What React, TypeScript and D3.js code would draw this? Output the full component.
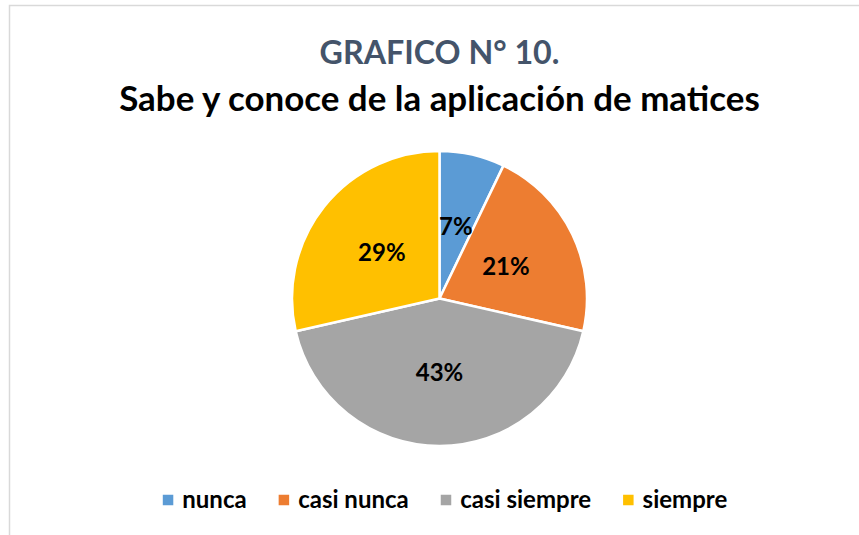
import React, { useEffect, useRef } from "react";
import * as d3 from "d3";

const categories = ["nunca", "casi nunca", "casi siempre", "siempre"];
const counts = [1, 3, 6, 4];
const colors = ["#5B9BD5", "#ED7D31", "#A5A5A5", "#FFC000"];
const titleLine1 = "GRAFICO N° 10.";
const titleLine2 = "Sabe y conoce de la aplicación de matices";

const W = 859;
const H = 535;
const FONT = "Lato, 'Open Sans', sans-serif";

export default function App() {
  const ref = useRef<SVGSVGElement | null>(null);

  useEffect(() => {
    const svg = d3.select(ref.current);
    svg.selectAll("*").remove();

    svg.append("rect").attr("x", 0).attr("y", 0).attr("width", W).attr("height", H).attr("fill", "#fff");
    svg.append("rect")
      .attr("x", 9.5).attr("y", 5.5).attr("width", W + 50).attr("height", H + 50)
      .attr("fill", "none").attr("stroke", "#D9D9D9").attr("stroke-width", 1.5);

    const cx = 439.5;
    const titleFit = (txt: string, y: number, target: number, size: number, color: string) => {
      const t = svg.append("text")
        .attr("x", cx).attr("y", y).attr("text-anchor", "middle")
        .attr("font-family", FONT).attr("font-weight", 700)
        .attr("font-size", size).attr("fill", color).text(txt);
      const w = (t.node() as SVGTextElement).getComputedTextLength();
      if (w > 0) t.attr("font-size", size * target / w);
    };
    titleFit(titleLine1, 64, 240, 36, "#44546A");
    titleFit(titleLine2, 111, 641, 32, "#000");

    const pieCx = 439.5, pieCy = 298.5, r = 147.5;
    const pie = d3.pie<number>().sort(null).value(d => d);
    const arcs = pie(counts);
    const total = d3.sum(counts);
    const arc = d3.arc<d3.PieArcDatum<number>>().innerRadius(0).outerRadius(r);
    const labelArc = d3.arc<d3.PieArcDatum<number>>().innerRadius(r * 0.5).outerRadius(r * 0.5);
    const g = svg.append("g").attr("transform", `translate(${pieCx},${pieCy})`);
    g.selectAll("path.slice").data(arcs).enter().append("path")
      .attr("class", "slice")
      .attr("d", arc as any)
      .attr("fill", (_d, i) => colors[i])
      .attr("stroke", "#fff").attr("stroke-width", 2.5).attr("stroke-linejoin", "round");
    g.selectAll("text.lbl").data(arcs).enter().append("text")
      .attr("class", "lbl")
      .attr("transform", d => { const [x, y] = labelArc.centroid(d); return `translate(${x},${y})`; })
      .attr("text-anchor", "middle").attr("dy", "0.36em")
      .attr("font-family", FONT).attr("font-weight", 700).attr("font-size", 24).attr("fill", "#000")
      .text(d => `${Math.round((d.value / total) * 100)}%`);

    // legend
    const legY = 500;
    const sq = 10.5, gapSq = 9, gapItem = 32;
    const lg = svg.append("g");
    const items = categories.map((c, i) => {
      const gi = lg.append("g");
      gi.append("rect").attr("x", 0).attr("y", legY - sq / 2).attr("width", sq).attr("height", sq).attr("fill", colors[i]);
      const t = gi.append("text").attr("x", sq + gapSq).attr("y", legY).attr("dy", "0.35em")
        .attr("font-family", FONT).attr("font-weight", 700).attr("font-size", 24).attr("fill", "#000").text(c);
      const w = (t.node() as SVGTextElement).getComputedTextLength();
      return { gi, w: sq + gapSq + w };
    });
    const totalW = d3.sum(items, d => d.w) + gapItem * (items.length - 1);
    let x = 445 - totalW / 2;
    items.forEach(it => { it.gi.attr("transform", `translate(${x},0)`); x += it.w + gapItem; });
  }, []);

  return (
    <svg ref={ref} width={W} height={H} style={{ position: "fixed", left: 0, top: 0, display: "block" }} />
  );
}
